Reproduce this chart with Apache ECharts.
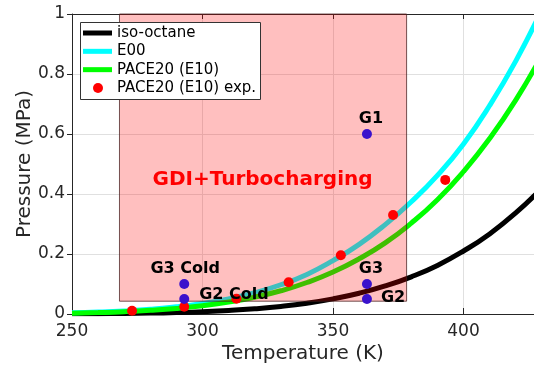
<!DOCTYPE html>
<html><head><meta charset="utf-8">
<script src="https://cdn.jsdelivr.net/npm/echarts@6/dist/echarts.min.js"></script>
<style>html,body{margin:0;padding:0;background:#fff}#c{width:534px;height:367px}</style>
</head><body><div id="c"></div>
<script>
// Temperature grid (K)
const temps = [250,260,270,280,290,300,310,320,330,340,350,360,370,380,390,400,410,420,430];
// Vapour pressure curves (MPa)
const isoOctane = [0.00053,0.00098,0.00173,0.00293,0.00479,0.00757,0.0116,0.0174,0.0253,0.0361,0.0505,0.0693,0.0935,0.124,0.162,0.210,0.267,0.337,0.420];
const e00 = [0.0038,0.0064,0.0103,0.0159,0.0240,0.0353,0.0504,0.0710,0.0975,0.1320,0.178,0.232,0.298,0.374,0.462,0.567,0.695,0.843,1.014];
const pace20 = [0.0028,0.0048,0.0077,0.0122,0.0185,0.0275,0.0397,0.0560,0.0774,0.1050,0.140,0.184,0.237,0.303,0.381,0.475,0.585,0.713,0.862];
// Experimental points
const expT = [273,293,313,333,353,373,393];
const expP = [0.011,0.024,0.051,0.106,0.196,0.33,0.447];
// Operating points
const gNames = ['G1','G3','G2','G3 Cold','G2 Cold'];
const gT = [363,363,363,293,293];
const gP = [0.6,0.1,0.05,0.1,0.05];
// Region
const regionT = [268,378];
const regionP = [0.041,1];
const regionLabel = 'GDI+Turbocharging';
const regionLabelAt = [323,0.447];
// Axes
const xTicks = [250,300,350,400];
const yTicks = [0,0.2,0.4,0.6,0.8,1];
// Legend entries
const lineNames = ['iso-octane', 'E00', 'PACE20 (E10)'];
const expName = 'PACE20 (E10) exp.';

const FONT = 'DejaVu Sans';
const pair = (xs, ys) => xs.map((x, i) => [x, ys[i]]);

// label placement (style only)
const gLabelStyle = [
  {align:'center', offset:[4,-15]},
  {align:'center', offset:[4,-15]},
  {align:'left', offset:[14,-1]},
  {align:'center', offset:[1,-15]},
  {align:'left', offset:[15,-4]}
];
const gData = gNames.map((n, i) => ({
  value: [gT[i], gP[i]],
  name: n,
  label: {
    show: true, position: 'inside', formatter: n,
    align: gLabelStyle[i].align, verticalAlign: 'middle',
    offset: gLabelStyle[i].offset,
    color: '#000', fontWeight: 'bold', fontSize: 16, fontFamily: FONT,
    textBorderWidth: 0
  }
}));

const legendText = {fontFamily: FONT, fontSize: 15, color: '#000', lineHeight: 16};

const chart = echarts.init(document.getElementById('c'), null, {renderer: 'canvas'});
chart.setOption({
  animation: false,
  backgroundColor: '#fff',
  textStyle: {fontFamily: FONT},
  grid: {left: 72, right: 0, top: 14, bottom: 53, containLabel: false, outerBoundsMode: 'none'},
  graphic: [{
    type: 'rect', z: 90, left: 80, top: 22, silent: true,
    shape: {width: 180, height: 77},
    style: {fill: '#fff', stroke: '#333', lineWidth: 1}
  }],
  legend: [{
    orient: 'vertical', left: 80, top: 22, z: 100,
    padding: [3, 4, 0, 3], itemGap: 2.33,
    itemWidth: 29, itemHeight: 5, icon: 'rect',
    textStyle: legendText,
    data: lineNames
  }, {
    orient: 'vertical', left: 80, top: 80, z: 100,
    padding: [0, 4, 0, 13],
    itemWidth: 10, itemHeight: 10, icon: 'circle',
    textStyle: Object.assign({}, legendText, {padding: [0, 0, 0, 9]}),
    data: [expName]
  }],
  xAxis: [{
    type: 'value', min: 250, max: 427, interval: 50, position: 'bottom',
    name: 'Temperature (K)', nameLocation: 'middle', nameGap: 30, nameMoveOverlap: false,
    nameTextStyle: {fontFamily: FONT, fontSize: 20, color: '#262626'},
    axisLine: {show: true, onZero: false, lineStyle: {color: '#262626', width: 1}},
    axisTick: {show: true, inside: true, length: 6, customValues: xTicks, lineStyle: {color: '#262626'}},
    axisLabel: {customValues: xTicks, fontFamily: FONT, fontSize: 17, color: '#262626', margin: 9},
    splitLine: {show: true, lineStyle: {color: '#e0e0e0', width: 1}}
  }, {
    type: 'value', min: 250, max: 427, interval: 50, position: 'top',
    axisLine: {show: true, onZero: false, lineStyle: {color: '#262626', width: 1}},
    axisTick: {show: true, inside: true, length: 5, customValues: xTicks, lineStyle: {color: '#262626'}},
    axisLabel: {show: false},
    splitLine: {show: false}
  }],
  yAxis: {
    type: 'value', min: 0, max: 1, interval: 0.2,
    name: 'Pressure (MPa)', nameLocation: 'middle', nameGap: 37, nameMoveOverlap: false,
    nameTextStyle: {fontFamily: FONT, fontSize: 20, color: '#262626'},
    axisLine: {show: true, onZero: false, lineStyle: {color: '#262626', width: 1}},
    axisTick: {show: true, inside: false, length: 5, customValues: yTicks, lineStyle: {color: '#262626'}},
    axisLabel: {customValues: yTicks, fontFamily: FONT, fontSize: 17, color: '#262626', margin: 7},
    splitLine: {show: true, lineStyle: {color: '#e0e0e0', width: 1}}
  },
  series: [
    {name: lineNames[0], type: 'line', data: pair(temps, isoOctane), showSymbol: false, symbol: 'none', smooth: true, z: 2,
     lineStyle: {color: '#000', width: 5}, itemStyle: {color: '#000'}},
    {name: lineNames[1], type: 'line', data: pair(temps, e00), showSymbol: false, symbol: 'none', smooth: true, z: 2,
     lineStyle: {color: '#00ffff', width: 5}, itemStyle: {color: '#00ffff'}},
    {name: lineNames[2], type: 'line', data: pair(temps, pace20), showSymbol: false, symbol: 'none', smooth: true, z: 2,
     lineStyle: {color: '#00ff00', width: 5}, itemStyle: {color: '#00ff00'}},
    {name: 'region', type: 'custom', z: 3, silent: true,
     data: [[regionT[0], regionT[1], regionP[0], regionP[1]]],
     encode: {x: [0, 1], y: [2, 3]},
     renderItem: function (params, api) {
       const p1 = api.coord([api.value(0), api.value(3)]);
       const p2 = api.coord([api.value(1), api.value(2)]);
       const c = api.coord(regionLabelAt);
       return {type: 'group', children: [
         {type: 'rect', shape: {x: p1[0] + 0.5, y: p1[1], width: p2[0] - p1[0], height: p2[1] - p1[1] - 0.5},
          style: {fill: 'rgba(255,0,0,0.25)', stroke: 'rgba(70,30,30,0.75)', lineWidth: 1}},
         {type: 'text', x: c[0], y: c[1],
          style: {text: regionLabel, fill: '#ff0000', font: 'bold 20px "DejaVu Sans"', align: 'center', verticalAlign: 'middle'}}
       ]};
     }},
    {name: expName, type: 'scatter', data: pair(expT, expP), symbol: 'circle', symbolSize: 10, z: 4,
     itemStyle: {color: '#ff0000', opacity: 1}},
    {name: 'points', type: 'scatter', data: gData, symbol: 'circle', symbolSize: 10, z: 5,
     itemStyle: {color: '#3a12cc', opacity: 1}}
  ]
});
</script>
</body></html>
